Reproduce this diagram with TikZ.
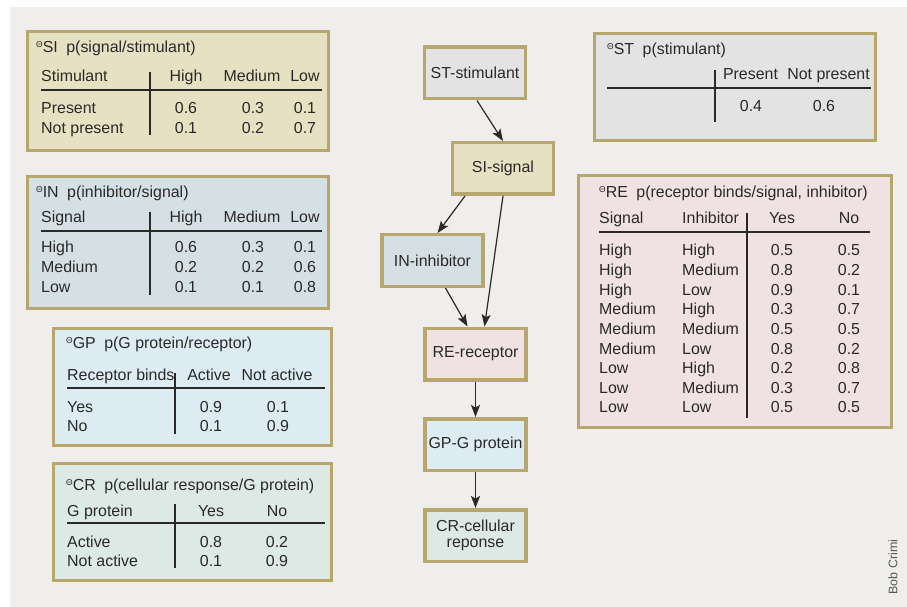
\documentclass[tikz,border=0pt]{standalone}
\usepackage{fontspec}
\setmainfont{Liberation Sans}
\usetikzlibrary{arrows.meta}
\definecolor{bgc}{HTML}{EFEEEC}
\definecolor{ink}{HTML}{2A2928}
\definecolor{border}{HTML}{B7A66E}
\definecolor{siF}{HTML}{E6E1C2}
\definecolor{inF}{HTML}{D4E0E3}
\definecolor{gpF}{HTML}{DDEBF3}
\definecolor{crF}{HTML}{DDE9E4}
\definecolor{stF}{HTML}{E3E3E3}
\definecolor{reF}{HTML}{F0E2E2}
\definecolor{credit}{HTML}{555555}
\newcommand{\fsz}{\fontsize{16}{19}\selectfont}
\newcommand{\thg}{\raisebox{5bp}{\fontsize{8.5}{9}\selectfont Θ}}
\newcommand{\gap}{\hspace{8.5bp}}
\begin{document}
\begin{tikzpicture}[x=1bp,y=-1bp,
  tbl/.style={draw=border, line width=3.5bp},
  lt/.style={anchor=base west, inner sep=0, font=\fsz, text=ink},
  ct/.style={anchor=base, inner sep=0, font=\fsz, text=ink},
  rl/.style={draw=ink, line width=1.3bp},
  nbox/.style={draw=border, line width=3.5bp, minimum width=101bp, minimum height=51.5bp, inner sep=0, font=\fsz, text=ink, align=center},
  arr/.style={draw=ink, line width=1.2bp, -{Stealth[length=12bp,width=9bp,inset=2.5bp]}}]
\useasboundingbox (0,0) rectangle (907,607);
\fill[bgc] (10,7) rectangle (907,607);

% ---------- SI table
\draw[tbl, fill=siF] (27.5,31.5) rectangle (328.5,150.5);
\node[lt] (siT) at (36,53) {\thg SI\gap p(signal/stimulant)};
\node[lt] (siH0) at (41,82) {Stimulant};
\node[ct] (siH1) at (186,82) {High};
\node[ct] (siH2) at (252,82) {Medium};
\node[ct] (siH3) at (305,82) {Low};
\draw[rl] (41,90) -- (322,90);
\draw[rl] (150,72) -- (150,135);
\foreach \lab/\a/\b/\c [count=\k] in {Present/0.6/0.3/0.1, Not present/0.1/0.2/0.7}{
  \node[lt] (siR\k) at (41,{114+19.5*(\k-1)}) {\lab};
  \node[ct] (siA\k) at (186,{114+19.5*(\k-1)}) {\a};
  \node[ct] (siB\k) at (253,{114+19.5*(\k-1)}) {\b};
  \node[ct] (siC\k) at (305,{114+19.5*(\k-1)}) {\c};
}

% ---------- IN table
\draw[tbl, fill=inF] (27.5,176.5) rectangle (328.5,308.5);
\node[lt] (inT) at (36,198) {\thg IN\gap p(inhibitor/signal)};
\node[lt] (inH0) at (41,223) {Signal};
\node[ct] (inH1) at (186,223) {High};
\node[ct] (inH2) at (252,223) {Medium};
\node[ct] (inH3) at (305,223) {Low};
\draw[rl] (41,231) -- (322,231);
\draw[rl] (150,212) -- (150,295);
\foreach \lab/\a/\b/\c [count=\k] in {High/0.6/0.3/0.1, Medium/0.2/0.2/0.6, Low/0.1/0.1/0.8}{
  \node[lt] (inR\k) at (41,{253+19.8*(\k-1)}) {\lab};
  \node[ct] (inA\k) at (186,{253+19.8*(\k-1)}) {\a};
  \node[ct] (inB\k) at (253,{253+19.8*(\k-1)}) {\b};
  \node[ct] (inC\k) at (305,{253+19.8*(\k-1)}) {\c};
}

% ---------- GP table
\draw[tbl, fill=gpF] (53.5,328.5) rectangle (331.5,445.5);
\node[lt] (gpT) at (66,348) {\thg GP\gap p(G protein/receptor)};
\node[lt] (gpH0) at (67,380) {Receptor binds};
\node[ct] (gpH1) at (209,380) {Active};
\node[ct] (gpH2) at (277,380) {Not active};
\draw[rl] (67,388) -- (325,388);
\draw[rl] (175,373) -- (175,434);
\foreach \lab/\a/\b [count=\k] in {Yes/0.9/0.1, No/0.1/0.9}{
  \node[lt] (gpR\k) at (67,{412+19.5*(\k-1)}) {\lab};
  \node[ct] (gpA\k) at (211,{412+19.5*(\k-1)}) {\a};
  \node[ct] (gpB\k) at (278,{412+19.5*(\k-1)}) {\b};
}

% ---------- CR table
\draw[tbl, fill=crF] (53.5,463.5) rectangle (331.5,580.5);
\node[lt] (crT) at (66,490) {\thg CR\gap p(cellular response/G protein)};
\node[lt] (crH0) at (67,516) {G protein};
\node[ct] (crH1) at (211,516) {Yes};
\node[ct] (crH2) at (277,516) {No};
\draw[rl] (67,523) -- (325,523);
\draw[rl] (175,504) -- (175,568);
\foreach \lab/\a/\b [count=\k] in {Active/0.8/0.2, Not active/0.1/0.9}{
  \node[lt] (crR\k) at (67,{547+19.5*(\k-1)}) {\lab};
  \node[ct] (crA\k) at (211,{547+19.5*(\k-1)}) {\a};
  \node[ct] (crB\k) at (277,{547+19.5*(\k-1)}) {\b};
}

% ---------- ST table
\draw[tbl, fill=stF] (594.5,33.5) rectangle (875.5,140.5);
\node[lt] (stT) at (607,55) {\thg ST\gap p(stimulant)};
\node[ct] (stH1) at (750.5,80) {Present};
\node[ct] (stH2) at (828.5,80) {Not present};
\draw[rl] (607,88) -- (871,88);
\draw[rl] (715,70) -- (715,122);
\node[ct] (stA) at (751,112) {0.4};
\node[ct] (stB) at (824,112) {0.6};

% ---------- RE table
\draw[tbl, fill=reF] (578.5,175.5) rectangle (891.5,427.5);
\node[lt] (reT) at (599,198) {\thg RE\gap p(receptor binds/signal, inhibitor)};
\node[lt] (reH0) at (599,224) {Signal};
\node[lt] (reH1) at (682,224) {Inhibitor};
\node[ct] (reH2) at (782,224) {Yes};
\node[ct] (reH3) at (849,224) {No};
\draw[rl] (599,232) -- (870,232);
\draw[rl] (747,213) -- (747,418);
\foreach \s/\i/\a/\b [count=\k] in {High/High/0.5/0.5, High/Medium/0.8/0.2, High/Low/0.9/0.1,
  Medium/High/0.3/0.7, Medium/Medium/0.5/0.5, Medium/Low/0.8/0.2,
  Low/High/0.2/0.8, Low/Medium/0.3/0.7, Low/Low/0.5/0.5}{
  \node[lt] (reS\k) at (599,{256+19.6*(\k-1)}) {\s};
  \node[lt] (reI\k) at (682,{256+19.6*(\k-1)}) {\i};
  \node[ct] (reA\k) at (782,{256+19.6*(\k-1)}) {\a};
  \node[ct] (reB\k) at (849,{256+19.6*(\k-1)}) {\b};
}

% ---------- network
\node[nbox, fill=stF] (st) at (475,73) {ST-stimulant};
\node[nbox, fill=siF] (si) at (503,168.5) {SI-signal};
\node[nbox, fill=inF] (inh) at (432.5,260.5) {IN-inhibitor};
\node[nbox, fill=reF] (re) at (475.5,354) {RE-receptor};
\node[nbox, fill=gpF] (gp) at (475.5,444.5) {GP-G protein};
\node[nbox, fill=crF] (cr) at (475.5,535.5) {CR-cellular\\[-3bp]reponse};

\draw[arr] ([xshift=2bp]st.south) -- (si.north);
\draw[arr] ([xshift=-38bp]si.south) -- ([xshift=5bp]inh.north);
\draw[arr] (si.south) -- ([xshift=9bp]re.north);
\draw[arr] ([xshift=13bp]inh.south) -- ([xshift=-8bp]re.north);
\draw[arr] (re.south) -- (gp.north);
\draw[arr] (gp.south) -- (cr.north);

\node[rotate=90, inner sep=0, font=\fontsize{12.5}{13}\selectfont, text=credit] (credit) at (893,567) {Bob Crimi};
\end{tikzpicture}
\end{document}
